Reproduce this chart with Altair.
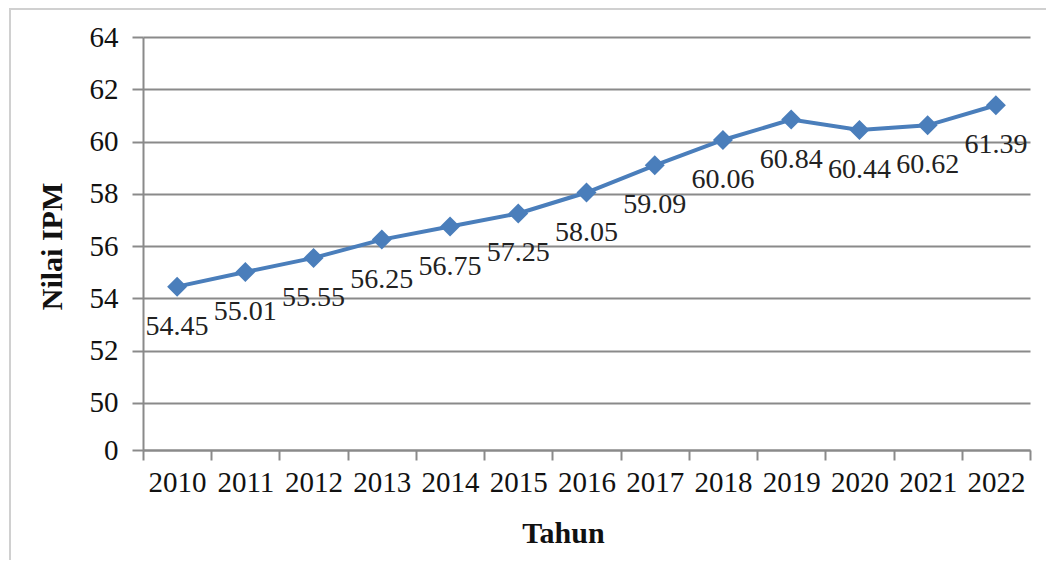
import altair as alt
import pandas as pd

years = ["2010", "2011", "2012", "2013", "2014", "2015", "2016",
         "2017", "2018", "2019", "2020", "2021", "2022"]
ipm = [54.45, 55.01, 55.55, 56.25, 56.75, 57.25, 58.05,
       59.09, 60.06, 60.84, 60.44, 60.62, 61.39]
y_ticks = [0, 50, 52, 54, 56, 58, 60, 62, 64]

df = pd.DataFrame({"Tahun": years, "IPM": ipm})
df["label"] = [f"{v:.2f}" for v in ipm]

# broken axis: 0 sits a little below 50, then 2 units per step
tick_pos = [0.1] + [(t - 48) / 2 for t in y_ticks[1:]]

FONT = "Liberation Serif"
BLUE = "#4a7ebb"
GRID = "#8a8a8a"

base = alt.Chart(df).transform_calculate(
    pos="(datum.IPM - 48) / 2"
)

x_enc = alt.X(
    "Tahun:O",
    sort=years,
    bandPosition=0.5,
    scale=alt.Scale(type="band", paddingInner=0, paddingOuter=0),
    axis=alt.Axis(
        title="Tahun", tickBand="extent", grid=False, labelAngle=0,
        labelFont=FONT, labelFontSize=29, labelColor="#111",
        labelPadding=8, tickSize=10, tickColor=GRID, tickWidth=2,
        domainColor=GRID, domainWidth=2,
        titleFont=FONT, titleFontSize=30, titleFontWeight="bold",
        titleColor="#111", titleX=420, titleY=83, titleBaseline="middle",
        titleAlign="center",
    ),
)

y_enc = alt.Y(
    "pos:Q",
    scale=alt.Scale(domain=[0.1, 8], nice=False, zero=False),
    axis=alt.Axis(
        title="Nilai IPM", values=tick_pos,
        labelExpr="datum.value < 0.5 ? '0' : format(48 + 2 * datum.value, 'd')",
        labelFont=FONT, labelFontSize=29, labelColor="#111",
        labelPadding=14, tickSize=11, tickColor=GRID, tickWidth=2,
        domainColor=GRID, domainWidth=2,
        grid=True, gridColor=GRID, gridWidth=2,
        titleFont=FONT, titleFontSize=30, titleFontWeight="bold",
        titleColor="#111", titleAngle=-90, titleX=-91, titleY=209,
        titleBaseline="middle", titleAlign="center",
    ),
)

line = base.mark_line(color=BLUE, strokeWidth=4).encode(x=x_enc, y=y_enc)
points = base.mark_point(shape="diamond", filled=True, color=BLUE,
                         size=400, opacity=1).encode(x=x_enc, y=y_enc)
labels = base.mark_text(font=FONT, fontSize=28, color="#222",
                        baseline="middle", align="center", dy=40).encode(
    x=x_enc, y=y_enc, text="label:N")

border = alt.Chart(pd.DataFrame({"k": [0]})).mark_rect(
    filled=False, stroke="#d0d0d0", strokeWidth=2
).encode(
    x=alt.value(-133), x2=alt.value(1000),
    y=alt.value(-28), y2=alt.value(700),
)

chart = alt.layer(border, line, points, labels).properties(
    width=887, height=413,
    padding={"left": 135, "top": 29, "right": 16, "bottom": 110},
    autosize=alt.AutoSizeParams(type="none"),
).configure_view(stroke=None)

chart.save("out.html", embed_options={"renderer": "svg", "actions": False})
